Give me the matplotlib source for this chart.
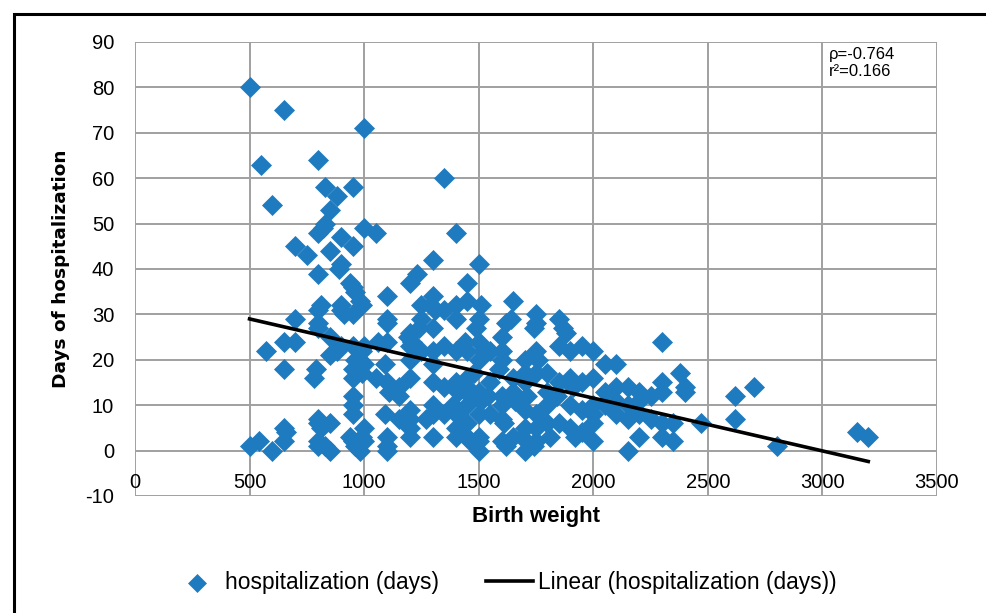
import matplotlib.pyplot as plt
from matplotlib.patches import Rectangle

# data (birth weight in g, hospitalization in days)
birth_weight = [
    500, 500, 550, 540, 570, 600, 600,
    650, 650, 650, 650, 660, 650, 700, 700, 700, 750,
    800, 800, 800, 810, 800, 800, 800, 790, 780, 800, 800, 800, 800, 810,
    830, 830, 820, 850, 850, 850, 850, 850, 850, 830,
    880, 900, 900, 890, 900, 900, 910, 900, 880,
    950, 950, 940, 950, 960, 950, 950, 960, 950, 950, 950, 950, 950, 940, 950, 960,
    1000, 1000, 990, 980, 1000, 990, 980, 1000, 990, 1000, 990, 980, 1000,
    1050, 1050, 1060,
    1100, 1100, 1100, 1100, 1090, 1100, 1110, 1090, 1100, 1100, 1100, 1150, 1150, 1150,
    1200, 1230, 1200, 1190, 1210, 1200, 1200, 1200, 1200, 1200, 1200, 1200, 1250, 1250, 1240, 1250,
    1300, 1300, 1290, 1310, 1300, 1300, 1300, 1300, 1300, 1300, 1300, 1350, 1350, 1350, 1350, 1350, 1270,
    1400, 1400, 1400, 1400, 1400, 1410, 1390, 1400, 1400, 1400,
    1450, 1450, 1440, 1450, 1450, 1450, 1460, 1450, 1450, 1450, 1460,
    1500, 1510, 1500, 1490, 1500, 1520, 1500, 1480, 1500, 1510, 1500, 1500, 1500, 1500,
    1550, 1550, 1540, 1550,
    1650, 1620, 1640, 1600, 1600, 1600, 1590, 1600, 1600, 1600, 1610, 1600, 1620,
    1650, 1650, 1660, 1650,
    1700, 1700, 1700, 1710, 1700, 1700, 1690, 1700,
    1750, 1750, 1740, 1750, 1760, 1750, 1750, 1750, 1750, 1740,
    1800, 1800, 1800, 1800, 1810, 1850, 1850, 1850, 1840, 1850, 1870, 1880,
    1900, 1900, 1910, 1900, 1900, 1920,
    1950, 1950, 1950, 1950, 2000, 2000, 2000, 2000, 2000, 2000,
    2050, 2050, 2050, 2100, 2100, 2100, 2100,
    2150, 2150, 2150, 2150, 2200, 2200, 2200, 2200, 2250, 2250,
    2300, 2300, 2300, 2300, 2300, 2350, 2350, 2380, 2400, 2400,
    2470, 2620, 2620, 2700, 2800, 3150, 3200,
]
hosp_days = [
    80, 1, 63, 2, 22, 54, 0,
    75, 24, 18, 5, 4, 2, 45, 29, 24, 43,
    64, 48, 39, 32, 31, 28, 27, 18, 16, 7, 6, 2, 1, 5,
    58, 50, 49, 53, 44, 25, 21, 6, 0, 1,
    56, 47, 41, 40, 32, 31, 30, 23, 22,
    58, 45, 37, 36, 35, 30, 23, 20, 18, 16, 12, 10, 8, 3, 2, 1,
    71, 49, 32, 33, 23, 22, 20, 19, 17, 5, 3, 0, 2,
    48, 16, 24,
    34, 29, 28, 24, 19, 15, 13, 8, 3, 1, 0, 14, 12, 7,
    37, 39, 26, 25, 24, 23, 20, 16, 9, 7, 5, 3, 32, 29, 27, 22,
    42, 34, 32, 31, 27, 22, 19, 15, 10, 8, 3, 60, 31, 23, 14, 8, 7,
    48, 32, 29, 22, 15, 13, 10, 8, 5, 3,
    37, 33, 24, 22, 16, 14, 12, 10, 6, 3, 2,
    41, 32, 29, 27, 24, 22, 20, 17, 13, 11, 8, 3, 2, 0,
    22, 15, 12, 8,
    33, 28, 29, 25, 22, 20, 18, 12, 10, 7, 6, 2, 1,
    16, 13, 11, 3,
    20, 17, 15, 12, 9, 5, 3, 0,
    30, 28, 27, 22, 20, 17, 8, 5, 2, 1,
    17, 13, 10, 6, 3, 29, 23, 15, 12, 6, 27, 26,
    22, 16, 14, 10, 5, 3,
    23, 15, 9, 4, 22, 16, 10, 8, 6, 2,
    19, 13, 10, 19, 14, 11, 8,
    14, 10, 7, 0, 13, 11, 8, 3, 12, 7,
    24, 15, 13, 6, 3, 6, 2, 17, 14, 13,
    6, 12, 7, 14, 1, 4, 3,
]

# excel linear trendline, endpoints
trend_x = [500, 3200]
trend_y = [29.0, -2.4]

x_ticks = [0, 500, 1000, 1500, 2000, 2500, 3000, 3500]
y_ticks = [-10, 0, 10, 20, 30, 40, 50, 60, 70, 80, 90]

blue = '#1f7bbf'
grid_gray = '#a0a0a0'

plt.rcParams['font.family'] = ['Liberation Sans', 'DejaVu Sans']
plt.rcParams['axes.unicode_minus'] = False

fig = plt.figure(figsize=(9.86, 6.13), dpi=100)
ax = fig.add_axes([0.1369, 0.1909, 0.8134, 0.7406])

ax.scatter(birth_weight, hosp_days, marker='D', s=115, color=blue,
           linewidths=0, zorder=3, label='hospitalization (days)')
ax.plot(trend_x, trend_y, color='black', lw=2.6, zorder=4,
        label='Linear (hospitalization (days))')

ax.set_xlim(0, 3500)
ax.set_ylim(-10, 90)
ax.set_xticks(x_ticks)
ax.set_yticks(y_ticks)
ax.grid(True, color=grid_gray, lw=1.4)
ax.set_axisbelow(True)
for s in ax.spines.values():
    s.set_visible(False)
# excel puts the category labels at the zero line
ax.spines['bottom'].set_position(('data', 0))
ax.tick_params(axis='both', length=0, labelsize=14.5, colors='black')
ax.tick_params(axis='x', pad=16)
ax.tick_params(axis='y', pad=15)

ax.set_ylabel('Days of hospitalization', fontsize=13.3, fontweight='bold',
              family=['DejaVu Sans'])
ax.yaxis.set_label_coords(-0.081, 0.5)
fig.text(0.544, 0.158, 'Birth weight', fontsize=16, fontweight='bold',
         ha='center', va='center')

ax.text(0.865, 0.989, 'ρ=-0.764\nr²=0.166', transform=ax.transAxes,
        fontsize=12, va='top', ha='left', linespacing=1.15)

fig.legend(loc='center', bbox_to_anchor=(0.512, 0.050), ncol=2, frameon=False,
           fontsize=16.4, handlelength=2.05, columnspacing=2.1, handletextpad=0.2,
           markerscale=0.9)

# outer chart frame (cropped at right and bottom)
fig.patches.append(Rectangle((0.0142, -0.5), 1.5, 1.477, transform=fig.transFigure,
                             fill=False, edgecolor='black', lw=2.2))

fig.savefig('out.png', dpi=100)
